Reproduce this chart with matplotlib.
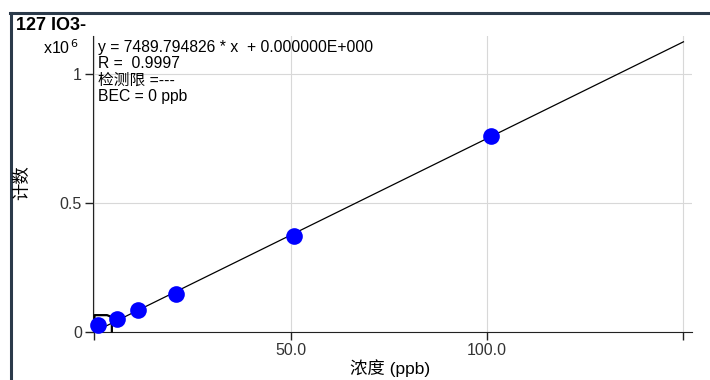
import numpy as np
import matplotlib.pyplot as plt
from matplotlib.lines import Line2D
from matplotlib.path import Path

plt.rcParams['font.family'] = ['Liberation Sans', 'Noto Sans CJK SC', 'DejaVu Sans']
plt.rcParams['font.size'] = 11

conc = [0.85, 5.7, 11.0, 20.8, 50.9, 101.0]
counts = [0.026e6, 0.048e6, 0.084e6, 0.146e6, 0.372e6, 0.760e6]
blank_conc = [0]
blank_counts = [0]
slope = 7489.794826
intercept = 0.0
fit_x = [0, 150]
xticks = [0, 50, 100, 150]
xticklabels = ['', '50.0', '100.0', '']
yticks = [0, 0.5, 1]
yticklabels = ['0', '0.5', '1']

fig = plt.figure(figsize=(7.1, 3.8), dpi=100)
ax = fig.add_axes([93 / 710, 48.3 / 380, 598.7 / 710, 295.7 / 380])

fx = np.array(fit_x, dtype=float)
ax.plot(fx, (slope * fx + intercept) / 1e6, color='black', lw=0.9, zorder=2)

# blank marker: open box with rounded corner, lower-left at the point
box = Path([(0, 0), (0, 1), (0.72, 1), (0.9, 0.93), (0.98, 0.8), (1, 0.7), (1, 0)])
ax.plot(blank_conc, blank_counts, marker=box, ls='none', mfc='none', mec='black',
        markersize=25, markeredgewidth=1.6, zorder=3, clip_on=False)
ax.plot(conc, np.array(counts) / 1e6, 'o', color='#0000ff', markersize=12,
        markeredgewidth=0, zorder=4, clip_on=False)

ax.set_xlim(-0.38, 152.1)
ax.set_ylim(0, 1.146)
ax.set_xticks(xticks)
ax.set_xticklabels(xticklabels)
ax.set_yticks(yticks)
ax.set_yticklabels(yticklabels)
ax.grid(True, color='#d8d8d8', lw=0.8)
ax.set_axisbelow(True)
for s in ['top', 'right']:
    ax.spines[s].set_visible(False)
ax.spines['left'].set_color('#222222')
ax.spines['bottom'].set_color('#222222')
ax.tick_params(direction='out', length=6, width=1, colors='#222222',
               labelcolor='#333333', labelsize=11.5, pad=2)

ax.text(0.9, 1.102, 'y = 7489.794826 * x  + 0.000000E+000', fontsize=11.3, va='center')
ax.text(0.9, 1.039, 'R =  0.9997', fontsize=11.3, va='center')
ax.text(0.9, 0.976, '检测限 =---', fontsize=11.3, va='center')
ax.text(0.9, 0.913, 'BEC = 0 ppb', fontsize=11.3, va='center')

fig.text(79 / 710, 1 - 48 / 380, 'x10$^{\\,6}$', fontsize=11.5, ha='right', va='center')
fig.text(16 / 710, 1 - 26 / 380, '127 IO3-', fontsize=13, fontweight='bold', va='center')
fig.text(22 / 710, 1 - 183 / 380, '计数', fontsize=12.5, rotation=90, ha='center', va='center')
fig.text(390 / 710, 1 - 368 / 380, '浓度 (ppb)', fontsize=12.5, ha='center', va='center')

# outer frame lines
fig.add_artist(Line2D([10 / 710, 1], [1 - 13 / 380] * 2, color='#2b3a4a', lw=2.2))
fig.add_artist(Line2D([11 / 710] * 2, [0, 1 - 13 / 380], color='#2b3a4a', lw=2.2))

plt.savefig('out.png', dpi=100)
